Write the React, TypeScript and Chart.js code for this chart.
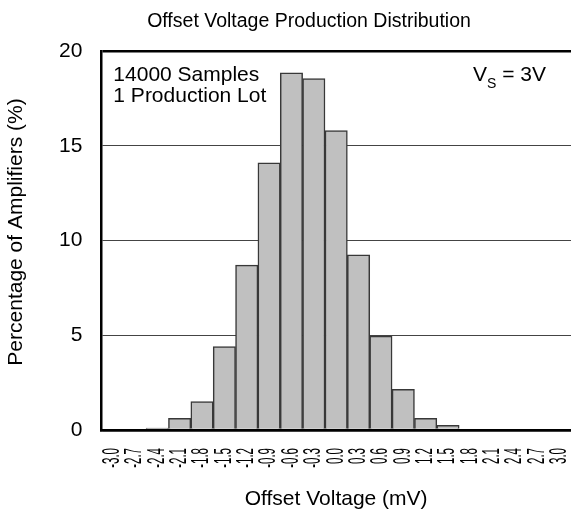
import React, { useEffect, useRef } from "react";
import { Chart, registerables } from "chart.js";

Chart.register(...registerables);

const binLabels: string[] = [
  "-3.0", "-2.7", "-2.4", "-2.1", "-1.8", "-1.5", "-1.2", "-0.9", "-0.6", "-0.3", "0.0",
  "0.3", "0.6", "0.9", "1.2", "1.5", "1.8", "2.1", "2.4", "2.7", "3.0",
];
const percentValues: number[] = [
  0, 0, 0.1, 0.62, 1.5, 4.4, 8.7, 14.1, 18.85, 18.55, 15.8,
  9.25, 4.95, 2.15, 0.62, 0.25, 0, 0, 0, 0, 0,
];
const yTicks: number[] = [0, 5, 10, 15, 20];
const chartTitle = "Offset Voltage Production Distribution";
const xTitle = "Offset Voltage (mV)";
const yTitle = "Percentage of Amplifiers (%)";
const noteLines: string[] = ["14000 Samples", "1 Production Lot"];

const FONT = '"Liberation Sans", Arial, Helvetica, sans-serif';

const textPlugin = {
  id: "customText",
  afterDraw(chart: any) {
    const ctx = chart.ctx as CanvasRenderingContext2D;
    const xs = chart.scales.x;
    const area = chart.chartArea;
    ctx.save();
    ctx.fillStyle = "#000";

    // x tick labels (compressed along reading direction, rotated)
    ctx.font = `23px ${FONT}`;
    binLabels.forEach((lab, i) => {
      const x = xs.getPixelForTick(i);
      ctx.save();
      ctx.setTransform(0, -0.5, 1, 0, x, area.bottom + 18);
      ctx.textAlign = "right";
      ctx.textBaseline = "middle";
      ctx.fillText(lab, 0, 0);
      ctx.restore();
    });

    // title
    ctx.font = `19.5px ${FONT}`;
    ctx.textAlign = "center";
    ctx.textBaseline = "alphabetic";
    ctx.fillText(chartTitle, 309, 27);

    // x title
    ctx.font = `21px ${FONT}`;
    ctx.fillText(xTitle, (area.left + area.right) / 2, 505);

    // y title
    ctx.save();
    ctx.translate(16, 232);
    ctx.rotate(-Math.PI / 2);
    ctx.textAlign = "center";
    ctx.textBaseline = "middle";
    ctx.fillText(yTitle, 0, 0);
    ctx.restore();

    // notes
    ctx.textAlign = "left";
    ctx.textBaseline = "alphabetic";
    ctx.fillText(noteLines[0], area.left + 12, 81);
    ctx.fillText(noteLines[1], area.left + 12, 102);

    // V_S = 3V
    let x = 473;
    ctx.fillText("V", x, 81);
    x += ctx.measureText("V").width;
    ctx.font = `14px ${FONT}`;
    ctx.fillText("S", x, 88);
    x += ctx.measureText("S").width;
    ctx.font = `21px ${FONT}`;
    ctx.fillText(" = 3V", x, 81);

    ctx.restore();
  },
};

export default function App() {
  const canvasRef = useRef<HTMLCanvasElement | null>(null);

  useEffect(() => {
    if (!canvasRef.current) return;
    const chart = new Chart(canvasRef.current, {
      type: "bar",
      data: {
        labels: binLabels,
        datasets: [
          {
            data: percentValues,
            backgroundColor: "#c0c0c0",
            borderColor: "#383838",
            borderWidth: 1.5,
            borderSkipped: "start",
            barPercentage: 1,
            categoryPercentage: 1,
          },
        ],
      },
      options: {
        responsive: false,
        animation: false,
        events: [],
        layout: { padding: { left: 40, right: 0, top: 51, bottom: 91 } },
        plugins: {
          legend: { display: false },
          title: { display: false },
          tooltip: { enabled: false },
        },
        scales: {
          x: {
            grid: { display: false, drawTicks: false },
            ticks: { display: false },
            border: { display: true, color: "#000", width: 2.5 },
          },
          y: {
            min: 0,
            max: 20,
            afterBuildTicks: (axis: any) => {
              axis.ticks = yTicks.map((v) => ({ value: v }));
            },
            grid: {
              drawTicks: false,
              color: (c: any) =>
                c.tick && (c.tick.value === 0 || c.tick.value === 20) ? "#000" : "#444",
              lineWidth: (c: any) =>
                c.tick && (c.tick.value === 0 || c.tick.value === 20) ? 2.5 : 1,
            },
            border: { display: true, color: "#000", width: 2.5 },
            ticks: {
              padding: 19,
              color: "#000",
              font: { family: FONT, size: 21 },
            },
          },
        },
      },
      plugins: [textPlugin],
    });
    return () => chart.destroy();
  }, []);

  return (
    <div style={{ position: "absolute", left: 0, top: 0, width: 571, height: 521 }}>
      <canvas ref={canvasRef} width={571} height={521} />
    </div>
  );
}
